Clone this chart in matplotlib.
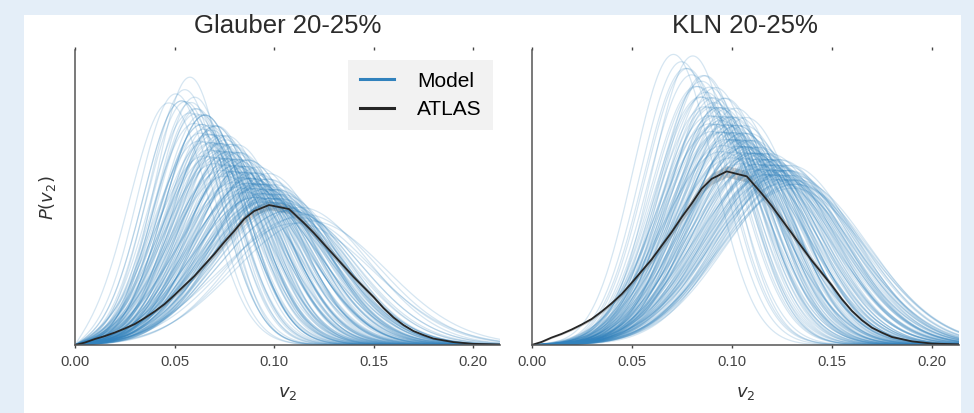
import numpy as np
import matplotlib.pyplot as plt
from matplotlib.patches import Rectangle

# ATLAS 20-25% v2 distribution
atlas_v = [0.0, 0.005, 0.010, 0.015, 0.020, 0.025, 0.030, 0.035, 0.040, 0.045,
           0.050, 0.055, 0.060, 0.065, 0.070, 0.075, 0.080, 0.085, 0.090, 0.0975,
           0.1075, 0.115, 0.120, 0.125, 0.130, 0.135, 0.140, 0.145, 0.150, 0.155,
           0.160, 0.165, 0.170, 0.175, 0.180, 0.190, 0.200, 0.215]
atlas_p = [0.0, 0.21, 0.51, 0.76, 1.06, 1.40, 1.78, 2.29, 2.85, 3.48,
           4.25, 5.06, 5.86, 6.80, 7.73, 8.75, 9.69, 10.71, 11.38, 11.89,
           11.55, 10.37, 9.52, 8.58, 7.65, 6.71, 5.78, 4.93, 4.08, 3.14,
           2.34, 1.70, 1.19, 0.85, 0.55, 0.25, 0.10, 0.04]

# model curves: Bessel-Gaussian parameters (v0, sigma) estimated per curve
glauber_v0 = [0.047, 0.052, 0.055, 0.043, 0.057, 0.050,
              0.055, 0.057, 0.058, 0.060, 0.060, 0.061, 0.062, 0.063, 0.064, 0.064,
              0.065, 0.066, 0.066, 0.067, 0.068, 0.068, 0.069, 0.070, 0.070, 0.071,
              0.072, 0.072, 0.073, 0.074, 0.074, 0.075, 0.076, 0.076, 0.077, 0.078,
              0.078, 0.079, 0.080, 0.080, 0.081, 0.082, 0.082, 0.083, 0.084, 0.085,
              0.058, 0.063, 0.069, 0.075, 0.081,
              0.084, 0.086, 0.087, 0.088, 0.089, 0.090, 0.090, 0.091, 0.092, 0.093,
              0.094, 0.095, 0.096, 0.097, 0.098, 0.085, 0.088, 0.091, 0.094, 0.097,
              0.100, 0.087, 0.092, 0.096, 0.099,
              0.102, 0.106, 0.110, 0.104, 0.112, 0.108,
              0.050, 0.052, 0.054, 0.056, 0.057, 0.059, 0.060, 0.061, 0.062, 0.063,
              0.064, 0.065, 0.066, 0.067, 0.068, 0.069, 0.070, 0.071, 0.072, 0.073,
              0.074, 0.075, 0.076, 0.077, 0.078, 0.079, 0.080, 0.081, 0.082, 0.083,
              0.084, 0.085, 0.086, 0.087, 0.088, 0.089, 0.090, 0.091, 0.092, 0.093,
              0.094, 0.095, 0.096, 0.098, 0.100, 0.102, 0.060, 0.065, 0.070, 0.075,
              0.080, 0.085, 0.090, 0.062, 0.068, 0.073, 0.078, 0.083, 0.088, 0.093]
glauber_sig = [0.0195, 0.019, 0.018, 0.0205, 0.0195, 0.020,
               0.020, 0.021, 0.0205, 0.022, 0.021, 0.0225, 0.021, 0.023, 0.022, 0.024,
               0.0225, 0.023, 0.025, 0.022, 0.024, 0.026, 0.023, 0.025, 0.024, 0.026,
               0.0235, 0.027, 0.025, 0.024, 0.026, 0.028, 0.025, 0.027, 0.026, 0.028,
               0.025, 0.027, 0.029, 0.026, 0.028, 0.027, 0.030, 0.029, 0.028, 0.030,
               0.024, 0.026, 0.028, 0.030, 0.031,
               0.029, 0.031, 0.030, 0.032, 0.030, 0.031, 0.033, 0.032, 0.030, 0.033,
               0.031, 0.034, 0.032, 0.033, 0.035, 0.033, 0.034, 0.035, 0.033, 0.031,
               0.034, 0.028, 0.029, 0.030, 0.032,
               0.036, 0.038, 0.037, 0.040, 0.039, 0.035,
               0.020, 0.020, 0.021, 0.022, 0.0205, 0.023, 0.022, 0.024, 0.021, 0.025,
               0.023, 0.024, 0.026, 0.022, 0.025, 0.024, 0.027, 0.023, 0.026, 0.025,
               0.028, 0.024, 0.027, 0.026, 0.029, 0.025, 0.028, 0.027, 0.030, 0.026,
               0.029, 0.031, 0.028, 0.030, 0.029, 0.032, 0.030, 0.031, 0.033, 0.029,
               0.032, 0.034, 0.031, 0.033, 0.035, 0.036, 0.026, 0.027, 0.029, 0.031,
               0.032, 0.033, 0.034, 0.021, 0.022, 0.023, 0.024, 0.026, 0.027, 0.028]

kln_v0 = [0.068, 0.072, 0.075, 0.078, 0.082,
          0.080, 0.082, 0.083, 0.084, 0.085, 0.086, 0.087, 0.088, 0.088, 0.089,
          0.090, 0.090, 0.091, 0.092, 0.093, 0.093, 0.094, 0.095, 0.095, 0.096,
          0.097, 0.097, 0.098, 0.099, 0.100, 0.100, 0.101, 0.102, 0.102, 0.103,
          0.104, 0.104, 0.105, 0.106, 0.107, 0.108, 0.084, 0.089, 0.094, 0.099,
          0.104, 0.086, 0.091, 0.096, 0.101,
          0.106, 0.108, 0.110, 0.111, 0.112, 0.113, 0.114, 0.115, 0.116, 0.117,
          0.118, 0.119, 0.120, 0.121, 0.122, 0.123, 0.124, 0.125, 0.126, 0.127,
          0.128, 0.110, 0.115, 0.120, 0.125,
          0.074, 0.077, 0.079, 0.081, 0.083, 0.085, 0.086, 0.087, 0.088, 0.089,
          0.090, 0.091, 0.092, 0.093, 0.094, 0.095, 0.096, 0.097, 0.098, 0.099,
          0.100, 0.101, 0.102, 0.103, 0.104, 0.105, 0.106, 0.107, 0.108, 0.109,
          0.110, 0.111, 0.112, 0.113, 0.114, 0.115, 0.116, 0.117, 0.118, 0.119,
          0.120, 0.122, 0.124, 0.126, 0.090, 0.095, 0.100, 0.105, 0.110, 0.115,
          0.120, 0.125, 0.085, 0.092, 0.098, 0.103, 0.108, 0.113, 0.118, 0.123]
kln_sig = [0.0205, 0.021, 0.0215, 0.0205, 0.0225,
           0.023, 0.024, 0.025, 0.0235, 0.026, 0.024, 0.025, 0.027, 0.0245, 0.026,
           0.025, 0.028, 0.0265, 0.025, 0.027, 0.029, 0.026, 0.028, 0.025, 0.027,
           0.029, 0.026, 0.028, 0.027, 0.030, 0.026, 0.029, 0.028, 0.030, 0.027,
           0.029, 0.031, 0.028, 0.030, 0.029, 0.031, 0.022, 0.023, 0.024, 0.025,
           0.026, 0.028, 0.030, 0.031, 0.032,
           0.031, 0.033, 0.032, 0.034, 0.031, 0.033, 0.035, 0.032, 0.034, 0.033,
           0.035, 0.032, 0.034, 0.036, 0.033, 0.035, 0.034, 0.036, 0.035, 0.037,
           0.036, 0.030, 0.031, 0.032, 0.033,
           0.0215, 0.022, 0.023, 0.024, 0.022, 0.025, 0.023, 0.026, 0.024, 0.027,
           0.025, 0.028, 0.026, 0.024, 0.027, 0.029, 0.026, 0.028, 0.030, 0.027,
           0.029, 0.031, 0.028, 0.030, 0.032, 0.029, 0.031, 0.033, 0.030, 0.032,
           0.034, 0.031, 0.033, 0.035, 0.032, 0.034, 0.033, 0.035, 0.034, 0.036,
           0.035, 0.034, 0.036, 0.037, 0.031, 0.032, 0.033, 0.034, 0.035, 0.036,
           0.037, 0.038, 0.027, 0.028, 0.029, 0.030, 0.031, 0.032, 0.033, 0.034]

panels = [("Glauber 20-25%", glauber_v0, glauber_sig, 25.06),
          ("KLN 20-25%", kln_v0, kln_sig, 20.2)]

xticks = [0.00, 0.05, 0.10, 0.15, 0.20]
blue = '#3182bd'


def bessel_gauss(v, v0, s):
    return v / s**2 * np.exp(-(v**2 + v0**2) / (2 * s**2)) * np.i0(v * v0 / s**2)


plt.rcParams['font.family'] = ['Liberation Sans', 'DejaVu Sans']
fig = plt.figure(figsize=(9.74, 4.13), dpi=100, facecolor='#e4eef8')
fig.patches.append(Rectangle((24 / 974, 0), (961 - 24) / 974, 1 - 15 / 413,
                             transform=fig.transFigure, facecolor='white',
                             edgecolor='none', zorder=-5))

positions = [[0.0770, 0.1646, 0.4363, 0.7143],
             [0.5457, 0.1646, 0.4389, 0.7143]]

v = np.linspace(0, 0.22, 400)
atlas_err = 0.03 * np.array(atlas_p) + 0.04

for i, (title, v0s, sigs, ytop) in enumerate(panels):
    ax = fig.add_axes(positions[i])
    ax.set_facecolor('none')
    for v0, s in zip(v0s, sigs):
        ax.plot(v, bessel_gauss(v, v0, s), color=blue, alpha=0.2, lw=0.9)
    ax.fill_between(atlas_v, np.array(atlas_p) - atlas_err,
                    np.array(atlas_p) + atlas_err, color='#999999', alpha=0.5, lw=0)
    ax.plot(atlas_v, atlas_p, color='#262626', lw=1.3)

    ax.set_xlim(0, 0.2135)
    ax.set_ylim(0, ytop)
    ax.set_xticks(xticks)
    ax.set_xticklabels(['%.2f' % t for t in xticks])
    ax.set_yticks([])
    ax.tick_params(axis='x', top=True, bottom=True, length=2, width=1,
                   color='#444444', labelcolor='#444444', labelsize=10.7, pad=5)
    for side in ['top', 'right']:
        ax.spines[side].set_visible(False)
    for side in ['left', 'bottom']:
        ax.spines[side].set_color('#555555')
        ax.spines[side].set_linewidth(1.1)
    ax.set_title(title, fontsize=18.5, color='#2b2b2b', pad=12)
    ax.set_xlabel(r'$v_2$', fontsize=13, color='#333333', labelpad=12)
    if i == 0:
        ax.set_ylabel(r'$P(v_2)$', fontsize=13, color='#333333', labelpad=12)
        ax.plot([], [], color=blue, lw=2.2, label='Model')
        ax.plot([], [], color='#262626', lw=2.2, label='ATLAS')
        ax.legend(loc='upper right', fontsize=15, frameon=True,
                  facecolor='#f2f2f2', edgecolor='none', fancybox=False,
                  framealpha=1, handlelength=1.65, borderpad=0.55,
                  labelspacing=0.45, handletextpad=1.1, borderaxespad=0,
                  bbox_to_anchor=(0.9835, 0.966))

fig.savefig('out.png', dpi=100, facecolor=fig.get_facecolor())
